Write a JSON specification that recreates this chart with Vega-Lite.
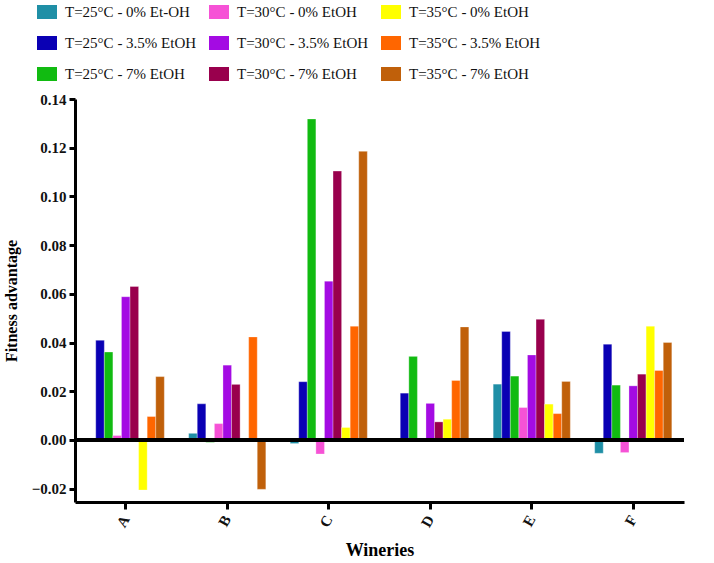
{
  "$schema": "https://vega.github.io/schema/vega-lite/v6.json",
  "width": 609,
  "height": 403,
  "autosize": "none",
  "padding": {"left": 75, "top": 99, "right": 30, "bottom": 61},
  "background": "white",
  "config": {
    "view": {"stroke": null},
    "font": "Liberation Serif, Times New Roman, serif",
    "legend": {"labelFont": "Liberation Serif, Times New Roman, serif"},
    "axis": {"labelFont": "Liberation Serif, Times New Roman, serif", "titleFont": "Liberation Serif, Times New Roman, serif"}
  },
  "data": {
    "values": [
      {"winery": "A", "series": "T=25°C - 0% Et-OH", "value": 0},
      {"winery": "A", "series": "T=25°C - 3.5% EtOH", "value": 0.0409},
      {"winery": "A", "series": "T=25°C - 7% EtOH", "value": 0.0361},
      {"winery": "A", "series": "T=30°C - 0% EtOH", "value": 0.0018},
      {"winery": "A", "series": "T=30°C - 3.5% EtOH", "value": 0.0588},
      {"winery": "A", "series": "T=30°C - 7% EtOH", "value": 0.063},
      {"winery": "A", "series": "T=35°C - 0% EtOH", "value": -0.0206},
      {"winery": "A", "series": "T=35°C - 3.5% EtOH", "value": 0.0096},
      {"winery": "A", "series": "T=35°C - 7% EtOH", "value": 0.026},
      {"winery": "B", "series": "T=25°C - 0% Et-OH", "value": 0.0027},
      {"winery": "B", "series": "T=25°C - 3.5% EtOH", "value": 0.0148},
      {"winery": "B", "series": "T=25°C - 7% EtOH", "value": -0.001},
      {"winery": "B", "series": "T=30°C - 0% EtOH", "value": 0.0067},
      {"winery": "B", "series": "T=30°C - 3.5% EtOH", "value": 0.0307},
      {"winery": "B", "series": "T=30°C - 7% EtOH", "value": 0.0228},
      {"winery": "B", "series": "T=35°C - 0% EtOH", "value": 0},
      {"winery": "B", "series": "T=35°C - 3.5% EtOH", "value": 0.0423},
      {"winery": "B", "series": "T=35°C - 7% EtOH", "value": -0.0203},
      {"winery": "C", "series": "T=25°C - 0% Et-OH", "value": -0.0015},
      {"winery": "C", "series": "T=25°C - 3.5% EtOH", "value": 0.0239},
      {"winery": "C", "series": "T=25°C - 7% EtOH", "value": 0.1318},
      {"winery": "C", "series": "T=30°C - 0% EtOH", "value": -0.0058},
      {"winery": "C", "series": "T=30°C - 3.5% EtOH", "value": 0.0652},
      {"winery": "C", "series": "T=30°C - 7% EtOH", "value": 0.1104},
      {"winery": "C", "series": "T=35°C - 0% EtOH", "value": 0.0051},
      {"winery": "C", "series": "T=35°C - 3.5% EtOH", "value": 0.0467},
      {"winery": "C", "series": "T=35°C - 7% EtOH", "value": 0.1185},
      {"winery": "D", "series": "T=25°C - 0% Et-OH", "value": 0},
      {"winery": "D", "series": "T=25°C - 3.5% EtOH", "value": 0.0192},
      {"winery": "D", "series": "T=25°C - 7% EtOH", "value": 0.0343},
      {"winery": "D", "series": "T=30°C - 0% EtOH", "value": 0},
      {"winery": "D", "series": "T=30°C - 3.5% EtOH", "value": 0.015},
      {"winery": "D", "series": "T=30°C - 7% EtOH", "value": 0.0074},
      {"winery": "D", "series": "T=35°C - 0% EtOH", "value": 0.0085},
      {"winery": "D", "series": "T=35°C - 3.5% EtOH", "value": 0.0244},
      {"winery": "D", "series": "T=35°C - 7% EtOH", "value": 0.0464},
      {"winery": "E", "series": "T=25°C - 0% Et-OH", "value": 0.0229},
      {"winery": "E", "series": "T=25°C - 3.5% EtOH", "value": 0.0445},
      {"winery": "E", "series": "T=25°C - 7% EtOH", "value": 0.0262},
      {"winery": "E", "series": "T=30°C - 0% EtOH", "value": 0.0133},
      {"winery": "E", "series": "T=30°C - 3.5% EtOH", "value": 0.0349},
      {"winery": "E", "series": "T=30°C - 7% EtOH", "value": 0.0495},
      {"winery": "E", "series": "T=35°C - 0% EtOH", "value": 0.0147},
      {"winery": "E", "series": "T=35°C - 3.5% EtOH", "value": 0.0108},
      {"winery": "E", "series": "T=35°C - 7% EtOH", "value": 0.024},
      {"winery": "F", "series": "T=25°C - 0% Et-OH", "value": -0.0055},
      {"winery": "F", "series": "T=25°C - 3.5% EtOH", "value": 0.0393},
      {"winery": "F", "series": "T=25°C - 7% EtOH", "value": 0.0225},
      {"winery": "F", "series": "T=30°C - 0% EtOH", "value": -0.0052},
      {"winery": "F", "series": "T=30°C - 3.5% EtOH", "value": 0.0222},
      {"winery": "F", "series": "T=30°C - 7% EtOH", "value": 0.027},
      {"winery": "F", "series": "T=35°C - 0% EtOH", "value": 0.0467},
      {"winery": "F", "series": "T=35°C - 3.5% EtOH", "value": 0.0285},
      {"winery": "F", "series": "T=35°C - 7% EtOH", "value": 0.04}
    ]
  },
  "layer": [
    {
      "mark": {"type": "bar", "stroke": "#ffffff", "strokeWidth": 0.5, "strokeOpacity": 0.6},
      "encoding": {
        "x": {
          "field": "winery",
          "type": "nominal",
          "scale": {"paddingInner": 0.24, "paddingOuter": 0.12},
          "axis": {
            "title": "Wineries",
            "titleFontSize": 18,
            "titleFontWeight": "bold",
            "titlePadding": 12,
            "labelAngle": -60,
            "labelAlign": "right",
            "labelBaseline": "middle",
            "labelFontSize": 15,
            "labelFontWeight": "bold",
            "labelColor": "#111",
            "labelPadding": 7,
            "domainColor": "black",
            "domainWidth": 3,
            "tickColor": "black",
            "tickWidth": 3,
            "tickSize": 7,
            "grid": false
          }
        },
        "xOffset": {
          "field": "series",
          "type": "nominal",
          "sort": [
            "T=25°C - 0% Et-OH", "T=25°C - 3.5% EtOH", "T=25°C - 7% EtOH",
            "T=30°C - 0% EtOH", "T=30°C - 3.5% EtOH", "T=30°C - 7% EtOH",
            "T=35°C - 0% EtOH", "T=35°C - 3.5% EtOH", "T=35°C - 7% EtOH"
          ],
          "scale": {"paddingInner": 0, "paddingOuter": 0}
        },
        "y": {
          "field": "value",
          "type": "quantitative",
          "scale": {"domain": [-0.0255, 0.14], "nice": false, "zero": false},
          "axis": {
            "title": "Fitness advantage",
            "titleFontSize": 16,
            "titleFontWeight": "bold",
            "titlePadding": 12,
            "values": [-0.02, 0, 0.02, 0.04, 0.06, 0.08, 0.1, 0.12, 0.14],
            "format": ".2f",
            "labelFontSize": 15,
            "labelFontWeight": "bold",
            "labelColor": "#111",
            "labelPadding": 3,
            "domainColor": "black",
            "domainWidth": 3,
            "tickColor": "black",
            "tickWidth": 3,
            "tickSize": 6,
            "grid": false
          }
        },
        "color": {
          "field": "series",
          "type": "nominal",
          "scale": {
            "domain": [
              "T=25°C - 0% Et-OH", "T=25°C - 3.5% EtOH", "T=25°C - 7% EtOH",
              "T=30°C - 0% EtOH", "T=30°C - 3.5% EtOH", "T=30°C - 7% EtOH",
              "T=35°C - 0% EtOH", "T=35°C - 3.5% EtOH", "T=35°C - 7% EtOH"
            ],
            "range": [
              "#1f8fa6", "#0a00b4", "#11bb11",
              "#f652d6", "#a40be3", "#99004d",
              "#ffff00", "#ff6600", "#c0600a"
            ]
          },
          "legend": {
            "title": null,
            "orient": "none",
            "legendX": -38,
            "legendY": -97,
            "columns": 3,
            "columnPadding": 12,
            "rowPadding": 13,
            "symbolType": "M-1,-0.7H1V0.7H-1Z",
            "symbolSize": 400,
            "symbolStrokeWidth": 0,
            "labelFontSize": 15,
            "labelColor": "#111",
            "labelOffset": 8,
            "labelLimit": 300
          }
        }
      }
    },
    {
      "mark": {"type": "rule", "color": "black", "strokeWidth": 4},
      "encoding": {"y": {"datum": 0}}
    }
  ]
}
